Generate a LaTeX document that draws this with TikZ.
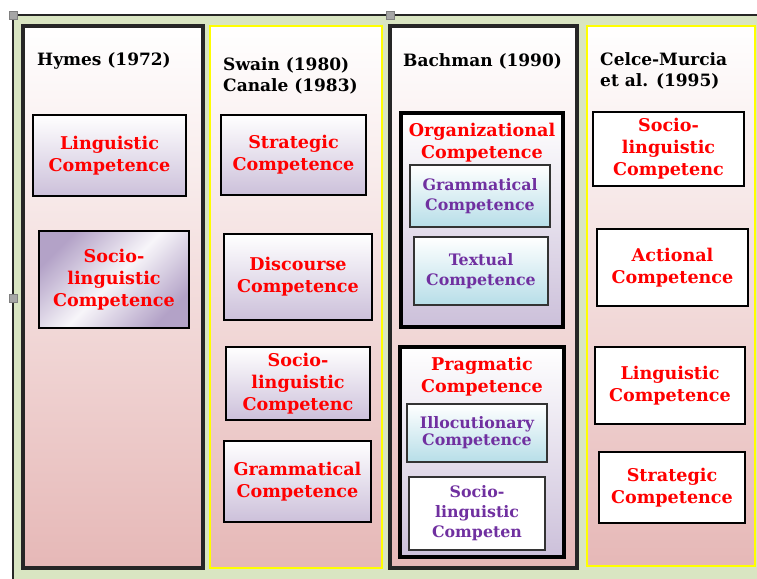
\documentclass[tikz,border=0pt]{standalone}
\usepackage{fontspec}
\setmainfont{DejaVu Serif}
\usetikzlibrary{positioning,shadows}

\definecolor{framegreen}{HTML}{D9E5C2}
\definecolor{colpink}{HTML}{E6B8B7}
\definecolor{boxlav}{HTML}{CCC0DA}
\definecolor{boxlavdark}{HTML}{B3A2C7}
\definecolor{boxblue}{HTML}{B7DEE8}
\definecolor{subpurple}{HTML}{7030A0}
\definecolor{colyellow}{HTML}{FFFF00}

\tikzset{
  sz/.style 2 args={minimum width=#1*0.03cm, minimum height=#2*0.03cm},
  softshadow/.style={drop shadow={shadow xshift=1pt, shadow yshift=-1pt, fill=black!45}},
  coltitle/.style={font=\bfseries\fontsize{14.5}{18.5}\selectfont, align=left, anchor=west, inner sep=0pt},
  redtxt/.style={text=red, font=\bfseries\fontsize{15}{18.7}\selectfont, align=center, inner sep=1pt},
  purptxt/.style={text=subpurple, font=\bfseries\fontsize{13.5}{17}\selectfont, align=center, inner sep=1pt},
  darkcol/.style={rectangle, draw=black!85, line width=2.6pt, top color=white, bottom color=colpink, softshadow},
  yellowcol/.style={rectangle, draw=colyellow, line width=2.4pt, top color=white, bottom color=colpink},
  compbox/.style={rectangle, draw=black, line width=2.2pt, redtxt, softshadow},
  lavbox/.style={compbox, top color=white, bottom color=boxlav},
  whitebox/.style={compbox, fill=white},
  groupbox/.style={rectangle, draw=black, line width=3pt, top color=white, bottom color=boxlav, softshadow},
  bluebox/.style={rectangle, draw=black!80, line width=1.6pt, purptxt, top color=white, bottom color=boxblue, softshadow},
  plainsub/.style={rectangle, draw=black!80, line width=1.4pt, purptxt, fill=white, softshadow}
}

\begin{document}
\begin{tikzpicture}[x=0.03cm, y=-0.03cm]

\clip (0,0) rectangle (757,578);
\fill[white] (0,0) rectangle (757,578);

% Frame
\fill[framegreen] (13,15) rectangle (770,590);
\draw[line width=2.5pt, black!85] (13,590) -- (13,15) -- (770,15);
\foreach \hx/\hy in {13/15, 390/15, 13/298}
  \filldraw[fill=gray!70, draw=gray] (\hx-4,\hy-4) rectangle (\hx+4,\hy+4);

% Columns
\node[darkcol, sz={180}{542}] (hymescol) at (113,297) {};
\node[yellowcol, sz={172}{542}] (swaincol) at (296,297) {};
\node[darkcol, sz={187}{542}] (bachcol) at (483.5,297) {};
\node[yellowcol, sz={168}{540}] (celcecol) at (671,296) {};

% Column titles
\node[coltitle] (hymes) at (37,61) {Hymes (1972)};
\node[coltitle] (swain) at (223,76) {Swain (1980)\\Canale (1983)};
\node[coltitle] (bachman) at (403,61) {Bachman (1990)};
\node[coltitle] (celce) at (600,71) {Celce-Murcia\\et al. (1995)};

% Hymes
\node[lavbox, sz={153}{81}] (hymling) at (109.5,155.5) {Linguistic\\Competence};
\node[lavbox, sz={150}{97}, top color=boxlavdark, bottom color=boxlavdark,
  middle color=white!85!boxlav, shading angle=45] (hymsoc) at (114,279.5)
  {Socio-\\linguistic\\Competence};

% Swain / Canale
\node[lavbox, sz={145}{80}] (swstrat) at (293.5,155) {Strategic\\Competence};
\node[lavbox, sz={148}{86}] (swdisc) at (298,277) {Discourse\\Competence};
\node[lavbox, sz={144}{73}] (swsoc) at (298,383.5) {Socio-\\linguistic\\Competenc};
\node[lavbox, sz={147}{81}] (swgram) at (297.5,481.5) {Grammatical\\Competence};

% Bachman
\node[groupbox, sz={162}{214}] (org) at (482,220) {};
\node[redtxt, below=9pt of org.north] (orgtitle) {Organizational\\Competence};
\node[bluebox, sz={140}{62}] (orggram) at (480,196) {Grammatical\\Competence};
\node[bluebox, sz={134}{68}] (orgtext) at (481,271) {Textual\\Competence};

\node[groupbox, sz={164}{210}] (prag) at (482,452) {};
\node[redtxt, below=9pt of prag.north] (pragtitle) {Pragmatic\\Competence};
\node[bluebox, sz={140}{58}, font=\bfseries\fontsize{13.5}{14.5}\selectfont] (illoc)
  at (477,433) {Illocutionary\\Competence};
\node[plainsub, sz={136}{73}] (pragsoc) at (477,513.5) {Socio-\\linguistic\\Competen};

% Celce-Murcia et al.
\node[whitebox, sz={151}{74}] (cmsoc) at (668.5,149) {Socio-\\linguistic\\Competenc};
\node[whitebox, sz={151}{77}] (cmact) at (672.5,267.5) {Actional\\Competence};
\node[whitebox, sz={150}{77}] (cmling) at (670,385.5) {Linguistic\\Competence};
\node[whitebox, sz={146}{71}] (cmstrat) at (672,487.5) {Strategic\\Competence};

\end{tikzpicture}
\end{document}
